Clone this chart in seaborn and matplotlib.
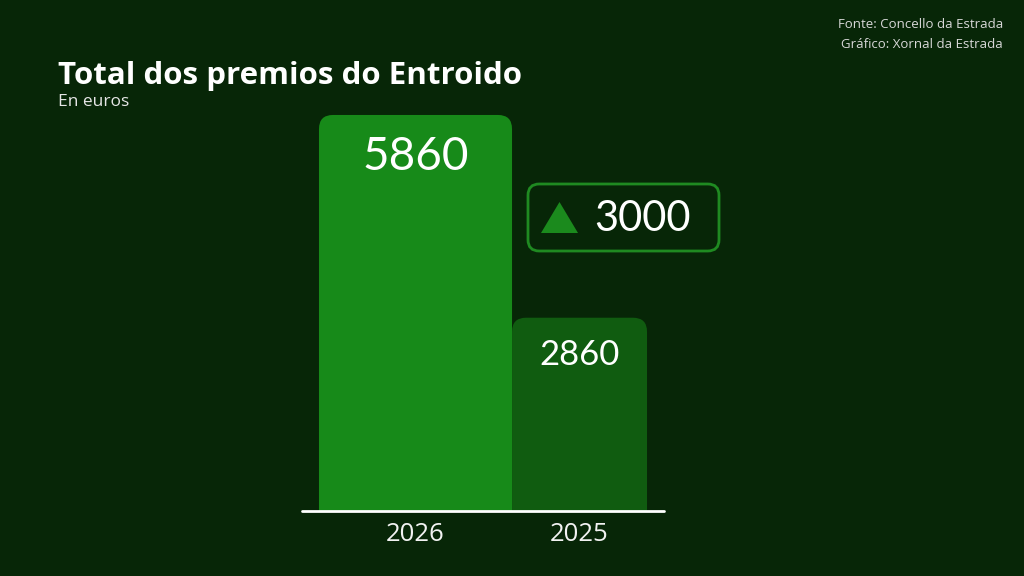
import matplotlib
matplotlib.use("Agg")
import matplotlib.pyplot as plt
from matplotlib.patches import FancyBboxPatch, Polygon
import seaborn as sns
import pandas as pd

# Data
years = ["2026", "2025"]
totals = [5860, 2860]
difference = 3000

BG = "#072607"
BAR_COLORS = ["#178a19", "#105c10"]
BAR_WIDTHS = [1.177, 0.823]

sns.set_theme(style="white")
plt.rcParams["font.family"] = ["Open Sans", "DejaVu Sans"]

df = pd.DataFrame({"year": years, "total": totals})

fig = plt.figure(figsize=(10.24, 5.76), dpi=100, facecolor=BG)
W, H = 1024, 576
ax_left, ax_right, ax_bottom, ax_top = 302, 664, 511, 105.5
ax = fig.add_axes([ax_left / W, (H - ax_bottom) / H,
                   (ax_right - ax_left) / W, (ax_bottom - ax_top) / H])
ax.set_facecolor(BG)

sns.barplot(data=df, x="year", y="total", hue="year", palette=BAR_COLORS,
            legend=False, ax=ax, saturation=1)
XLIM = (-0.692, 1.515)
YLIM = (0, 6000)
ax.set_xlim(*XLIM)
ax.set_ylim(*YLIM)

# Ratio of y-units to x-units per pixel, so the corners come out circular
x_per_px = (XLIM[1] - XLIM[0]) / (ax_right - ax_left)
y_per_px = (YLIM[1] - YLIM[0]) / (ax_bottom - ax_top)
aspect = y_per_px / x_per_px
radius = 14 * x_per_px

# Replace the square bars with top-rounded ones of differing widths
patches = list(ax.patches)
for i, p in enumerate(patches):
    cx = p.get_x() + p.get_width() / 2
    h = p.get_height()
    w = BAR_WIDTHS[i]
    p.remove()
    rb = FancyBboxPatch((cx - w / 2, -400), w, h + 400,
                        boxstyle=f"round,pad=0,rounding_size={radius}",
                        mutation_aspect=aspect,
                        facecolor=BAR_COLORS[i], edgecolor="none", zorder=2)
    ax.add_patch(rb)

for sp in ax.spines.values():
    sp.set_visible(False)
ax.axhline(0, color="white", lw=2, zorder=3, clip_on=False)
ax.set_xlabel("")
ax.set_ylabel("")
ax.set_yticks([])
ax.set_xticks([0, 1])
ax.set_xticklabels(years, color="#f2f2f2", fontsize=18.5)
ax.tick_params(axis="x", length=0, pad=8)

# Value labels inside bars
ax.text(0, totals[0] - 620, f"{totals[0]}", ha="center", va="center",
        fontsize=33, color="white", family=["Lato", "DejaVu Sans"], zorder=4)
ax.text(1, totals[1] - 550, f"{totals[1]}", ha="center", va="center",
        fontsize=25, color="white", family=["Lato", "DejaVu Sans"], zorder=4)

# Difference badge
def px(x, y):
    return (x / W, (H - y) / H)

bx0, by0 = px(528, 251)
bx1, by1 = px(719, 184)
badge = FancyBboxPatch((bx0, by0), bx1 - bx0, by1 - by0,
                       boxstyle="round,pad=0,rounding_size=0.011",
                       mutation_aspect=W / H,
                       transform=fig.transFigure, facecolor=BG,
                       edgecolor="#1f8a21", lw=2, zorder=5)
fig.patches.append(badge)
tri = Polygon([px(541, 233), px(578, 233), px(559.5, 202)], closed=True,
              transform=fig.transFigure, facecolor="#1b8a1d",
              edgecolor="none", zorder=6)
fig.patches.append(tri)
fig.text(*px(642, 219), f"{difference}", ha="center", va="center",
         fontsize=30, color="white", family=["Lato", "DejaVu Sans"], zorder=7)

# Titles and credits
fig.text(*px(58, 76), "Total dos premios do Entroido", ha="left", va="center",
         fontsize=22.5, fontweight="bold", color="white")
fig.text(*px(58, 102), "En euros", ha="left", va="center",
         fontsize=12.5, color="#e6e6e6")
fig.text(*px(1003, 25), "Fonte: Concello da Estrada", ha="right", va="center",
         fontsize=9.5, color="#d8d8d8")
fig.text(*px(1003, 44), "Gráfico: Xornal da Estrada", ha="right", va="center",
         fontsize=9.5, color="#d8d8d8")

fig.savefig("out.png", dpi=100, facecolor=BG)
